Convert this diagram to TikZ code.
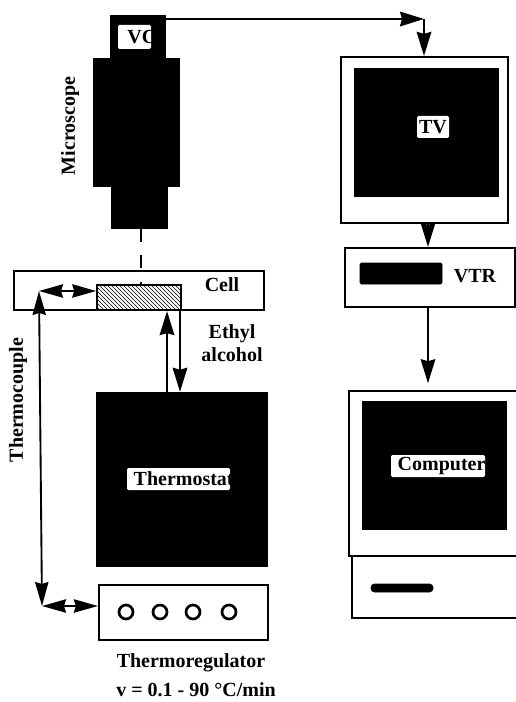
\documentclass[tikz,border=0pt]{standalone}
\usepackage{fontspec}
\setmainfont{Liberation Serif}
\usetikzlibrary{arrows.meta,positioning,patterns}
\tikzset{
  blackbox/.style={fill=black,draw=black,inner sep=0pt},
  whitebox/.style={fill=white,draw=black,line width=1.7pt,inner sep=0pt},
  lbl/.style={font=\fontsize{15}{17}\selectfont\bfseries,align=center,inner sep=0pt},
  inlbl/.style={lbl,fill=white,text=black,rounded corners=1pt},
  conn/.style={-{Stealth[length=18pt,width=11pt,inset=1.5pt]},line width=1.4pt},
  twoway/.style={{Stealth[length=18pt,width=10pt,inset=1.5pt]}-{Stealth[length=18pt,width=10pt,inset=1.5pt]},line width=1.4pt},
  knob/.style={circle,draw=black,line width=2pt,minimum size=10.5pt,inner sep=0pt,fill=white}
}
\begin{document}
\begin{tikzpicture}[x=0.75pt,y=-0.75pt]
  \useasboundingbox (0,0) rectangle (516,702);
  % Free ends of the connectors
  \coordinate (corner) at (424,19);
  \coordinate (beam) at (141,284);
  \coordinate (tv out) at (428,223);
  \coordinate (tc top) at (39,291);
  \coordinate (tc bot) at (42,606);
  \coordinate (pipe up) at (167,392);
  \coordinate (pipe dn) at (180,310);
  % Microscope
  \node[blackbox,minimum width=41.25pt,minimum height=32.25pt] (vc) at (137.5,36.5) {};
  \node[inlbl,minimum width=24.75pt,minimum height=18pt] (vclbl) at (134.5,37)
        {\makebox[24.75pt][l]{\hspace{7pt}VC}};
  \node[blackbox,minimum width=64.5pt,minimum height=96pt] (body) at (136,122) {};
  \node[blackbox,minimum width=42pt,minimum height=31.5pt] (lens) at (139,207) {};
  \node[lbl,rotate=90] (micro) at (70,126) {Microscope};
  % Cell
  \node[whitebox,minimum width=187.5pt,minimum height=29.25pt] (cell) at (139,290.5) {};
  \node[draw=black,line width=1.2pt,pattern=north west lines,minimum width=63pt,
        minimum height=18.75pt,inner sep=0pt] (sample) at (139,297.5) {};
  \node[lbl] (celllbl) at (222,285) {Cell};
  \node[lbl] (ethyl) at (232,343) {Ethyl\\alcohol};
  % Thermostat
  \node[blackbox,minimum width=128.25pt,minimum height=130.5pt] (bath) at (181.5,479) {};
  \node[inlbl,minimum width=77.25pt,minimum height=16.5pt] (bathlbl) at (178.5,479)
        {\makebox[77.25pt][l]{\hspace{5pt}Thermostat}};
  % Thermoregulator
  \node[whitebox,minimum width=126.75pt,minimum height=41.25pt] (reg) at (183.5,612.5) {};
  \foreach \kx/\kn in {126/a,160/b,193/c,229/d}
    \node[knob] (knob\kn) at (\kx,612) {};
  \node[lbl] (reglbl) at (191,663) {Thermoregulator};
  \node[lbl] (rate) at (196,690) {v = 0.1 - 90 °C/min};
  \node[lbl,rotate=90] (tclbl) at (18,400) {Thermocouple};
  % TV
  \node[whitebox,minimum width=125.25pt,minimum height=124.5pt] (tv) at (424.5,140) {};
  \node[blackbox,minimum width=108pt,minimum height=96pt] (tvscreen) at (426,132) {};
  \node[inlbl,minimum width=24pt,minimum height=16.5pt] (tvlbl) at (433,127) {TV};
  % VTR
  \node[whitebox,minimum width=127.5pt,minimum height=44.25pt] (vtr) at (430,277.5) {};
  \node[blackbox,rounded corners=1pt,minimum width=61.5pt,minimum height=15.75pt] (tape) at (401,273.5) {};
  \node[lbl] (vtrlbl) at (475,276) {VTR};
  % Computer, running off the right edge
  \begin{scope}
    \clip (0,0) rectangle (516,702);
    \node[whitebox,minimum width=128.25pt,minimum height=123.75pt] (comp) at (434.5,473.5) {};
    \node[whitebox,minimum width=126pt,minimum height=46.5pt] (base) at (436,587) {};
  \end{scope}
  \node[blackbox,minimum width=108pt,minimum height=96pt] (compscreen) at (434,465) {};
  \node[inlbl,minimum width=70.5pt,minimum height=16.5pt] (complbl) at (438,466)
        {\makebox[70.5pt][l]{\hspace{5pt}Computer}};
  \node[blackbox,rounded corners=2.5pt,minimum width=46.5pt,minimum height=6pt] (slot) at (402,588) {};
  % Arrows
  \draw[line width=1.4pt,dash pattern=on 10pt off 10pt] (lens.south -| beam) -- (beam);
  \draw[conn] (vc.east |- corner) -- (corner);
  \draw[conn] (corner) -- (tv.north -| corner);
  \draw[conn] (tv out) -- (vtr.north -| tv out);
  \draw[conn,shorten >=5pt] (vtr.south -| tv out) -- (comp.north -| tv out);
  \draw[conn] (pipe up) -- (cell.south -| pipe up);
  \draw[conn] (pipe dn) -- (bath.north -| pipe dn);
  \draw[twoway] (tc top) -- (tc bot);
  \draw[twoway] (tc top) -- (tc top -| sample.west);
  \draw[twoway] (tc bot) -- (tc bot -| reg.west);
\end{tikzpicture}
\end{document}
